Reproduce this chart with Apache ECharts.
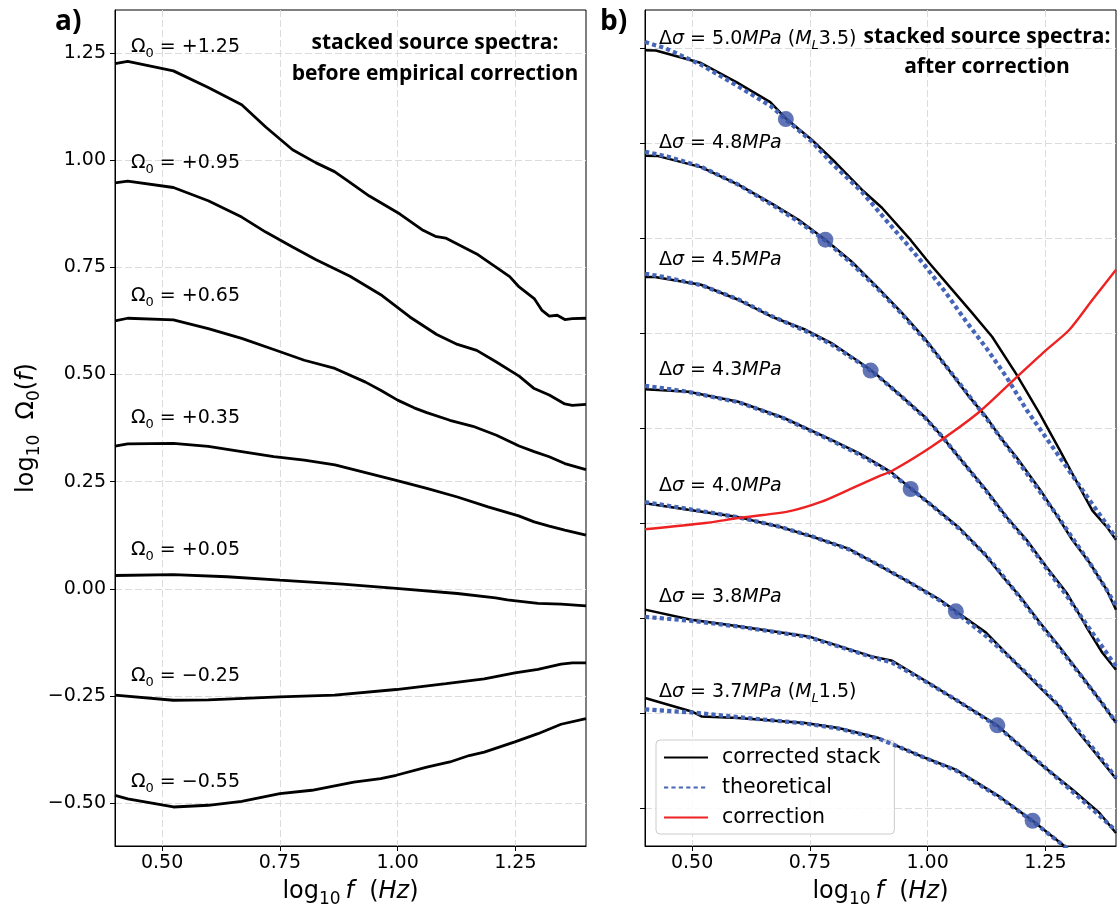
<!DOCTYPE html>
<html>
<head>
<meta charset="utf-8">
<script src="https://cdn.jsdelivr.net/npm/echarts@6/dist/echarts.min.js"></script>
<style>
  html, body { margin: 0; padding: 0; background: #ffffff; }
  #chart { width: 1120px; height: 909px; }
</style>
</head>
<body>
<div id="chart"></div>
<script>
// ---------------- tick values ----------------
const freqTicks = [0.5, 0.75, 1.0, 1.25];
const ampTicksA = [-0.5, -0.25, 0, 0.25, 0.5, 0.75, 1.0, 1.25];
const ampTicksB = [0, 0.5, 1.0, 1.5, 2.0, 2.5, 3.0, 3.5, 4.0];

// ---------------- panel a: stacked spectra before correction ----------------
// [log10 f, log10 Omega0(f)]
const stackP125 = [[0.40,1.225],[0.427,1.230],[0.524,1.208],[0.598,1.169],[0.669,1.129],[0.720,1.077],[0.777,1.024],[0.826,0.994],[0.866,0.973],[0.892,0.953],[0.940,0.916],[1.005,0.874],[1.054,0.836],[1.080,0.822],[1.102,0.818],[1.168,0.781],[1.238,0.728],[1.258,0.704],[1.290,0.677],[1.306,0.650],[1.322,0.636],[1.339,0.638],[1.355,0.628],[1.371,0.630],[1.40,0.631]];
const stackP095 = [[0.40,0.947],[0.427,0.951],[0.524,0.936],[0.598,0.905],[0.669,0.867],[0.720,0.832],[0.777,0.797],[0.826,0.768],[0.899,0.729],[0.967,0.684],[1.026,0.634],[1.083,0.593],[1.127,0.570],[1.168,0.556],[1.208,0.530],[1.258,0.496],[1.290,0.467],[1.322,0.452],[1.355,0.431],[1.371,0.428],[1.40,0.430]];
const stackP065 = [[0.40,0.625],[0.427,0.631],[0.524,0.627],[0.598,0.607],[0.669,0.584],[0.737,0.558],[0.802,0.533],[0.867,0.514],[0.932,0.482],[0.964,0.463],[1.000,0.440],[1.035,0.422],[1.062,0.411],[1.111,0.393],[1.160,0.379],[1.210,0.358],[1.258,0.333],[1.290,0.320],[1.322,0.308],[1.355,0.292],[1.40,0.278]];
const stackP035 = [[0.40,0.333],[0.427,0.338],[0.524,0.339],[0.598,0.332],[0.669,0.320],[0.737,0.308],[0.802,0.300],[0.867,0.289],[0.932,0.271],[0.997,0.253],[1.062,0.234],[1.127,0.214],[1.192,0.191],[1.257,0.170],[1.290,0.156],[1.322,0.146],[1.355,0.137],[1.40,0.125]];
const stackP005 = [[0.40,0.031],[0.524,0.033],[0.638,0.028],[0.750,0.020],[0.883,0.011],[0.997,0.001],[1.127,-0.011],[1.208,-0.021],[1.233,-0.026],[1.298,-0.034],[1.347,-0.036],[1.40,-0.040]];
const stackM025 = [[0.40,-0.248],[0.524,-0.260],[0.598,-0.259],[0.750,-0.252],[0.866,-0.248],[0.997,-0.235],[1.103,-0.221],[1.184,-0.210],[1.249,-0.196],[1.298,-0.188],[1.347,-0.176],[1.371,-0.173],[1.40,-0.173]];
const stackM055 = [[0.40,-0.482],[0.427,-0.490],[0.524,-0.509],[0.598,-0.505],[0.669,-0.496],[0.750,-0.478],[0.818,-0.470],[0.907,-0.451],[0.964,-0.443],[0.997,-0.435],[1.062,-0.416],[1.111,-0.404],[1.152,-0.389],[1.184,-0.381],[1.249,-0.357],[1.298,-0.338],[1.347,-0.316],[1.40,-0.303]];
const offsetsA = ['+1.25', '+0.95', '+0.65', '+0.35', '+0.05', '\u22120.25', '\u22120.55'];

// ---------------- panel b: corrected stacks vs theoretical spectra ----------------
const stack50 = [[0.40,3.988],[0.423,3.987],[0.519,3.921],[0.594,3.820],[0.666,3.715],[0.698,3.632],[0.754,3.517],[0.805,3.396],[0.864,3.246],[0.903,3.159],[0.960,3.001],[1.003,2.870],[1.052,2.728],[1.094,2.607],[1.137,2.480],[1.188,2.285],[1.237,2.080],[1.280,1.886],[1.322,1.691],[1.350,1.565],[1.380,1.481],[1.40,1.412]];
const theo50 = [[0.40,4.031],[0.442,4.000],[0.519,3.912],[0.598,3.798],[0.668,3.693],[0.698,3.626],[0.754,3.508],[0.796,3.395],[0.860,3.244],[0.911,3.096],[0.954,2.974],[0.996,2.849],[1.039,2.711],[1.082,2.560],[1.124,2.423],[1.167,2.270],[1.210,2.096],[1.252,1.947],[1.274,1.869],[1.308,1.748],[1.338,1.641],[1.365,1.546],[1.40,1.422]];
const stack48 = [[0.40,3.433],[0.428,3.431],[0.519,3.373],[0.598,3.281],[0.673,3.176],[0.726,3.096],[0.783,2.991],[0.839,2.875],[0.896,2.733],[0.945,2.607],[0.996,2.465],[1.045,2.307],[1.088,2.165],[1.124,2.060],[1.158,1.939],[1.188,1.849],[1.243,1.660],[1.280,1.518],[1.307,1.412],[1.344,1.291],[1.380,1.149],[1.40,1.043]];
const theo48 = [[0.40,3.454],[0.449,3.428],[0.519,3.375],[0.598,3.281],[0.673,3.170],[0.726,3.086],[0.783,2.986],[0.839,2.865],[0.896,2.728],[0.945,2.601],[0.996,2.459],[1.045,2.307],[1.088,2.170],[1.124,2.054],[1.158,1.939],[1.188,1.839],[1.243,1.649],[1.280,1.523],[1.307,1.423],[1.344,1.291],[1.380,1.149],[1.40,1.065]];
const stack45 = [[0.40,2.795],[0.421,2.795],[0.519,2.754],[0.598,2.675],[0.668,2.587],[0.741,2.517],[0.796,2.447],[0.869,2.324],[0.896,2.272],[0.945,2.166],[0.996,2.054],[1.031,1.954],[1.067,1.844],[1.124,1.675],[1.167,1.533],[1.210,1.412],[1.252,1.270],[1.295,1.133],[1.337,0.954],[1.371,0.817],[1.40,0.728]];
const theo45 = [[0.40,2.812],[0.44,2.795],[0.519,2.752],[0.598,2.677],[0.668,2.590],[0.741,2.510],[0.796,2.440],[0.869,2.320],[0.896,2.270],[0.945,2.165],[0.996,2.050],[1.031,1.955],[1.067,1.845],[1.124,1.670],[1.167,1.530],[1.210,1.405],[1.252,1.262],[1.295,1.118],[1.337,0.968],[1.371,0.848],[1.40,0.745]];
const stack43 = [[0.40,2.204],[0.492,2.191],[0.598,2.138],[0.694,2.054],[0.796,1.938],[0.854,1.868],[0.896,1.807],[0.924,1.765],[0.965,1.680],[1.010,1.591],[1.067,1.475],[1.124,1.328],[1.158,1.222],[1.195,1.117],[1.237,0.980],[1.280,0.849],[1.322,0.712],[1.365,0.570],[1.40,0.449]];
const theo43 = [[0.40,2.222],[0.45,2.205],[0.492,2.190],[0.598,2.136],[0.694,2.052],[0.796,1.934],[0.854,1.862],[0.896,1.802],[0.924,1.758],[0.965,1.680],[1.010,1.590],[1.067,1.470],[1.124,1.330],[1.158,1.228],[1.195,1.112],[1.237,0.974],[1.280,0.842],[1.322,0.708],[1.365,0.570],[1.40,0.452]];
const stack40 = [[0.40,1.604],[0.492,1.570],[0.598,1.531],[0.683,1.482],[0.754,1.429],[0.832,1.365],[0.903,1.268],[0.960,1.190],[1.024,1.100],[1.060,1.035],[1.124,0.923],[1.180,0.781],[1.237,0.638],[1.280,0.533],[1.316,0.412],[1.359,0.281],[1.40,0.154]];
const theo40 = [[0.40,1.610],[0.492,1.574],[0.598,1.530],[0.683,1.482],[0.754,1.430],[0.832,1.362],[0.903,1.270],[0.960,1.190],[1.024,1.095],[1.060,1.030],[1.124,0.905],[1.180,0.780],[1.237,0.645],[1.280,0.535],[1.316,0.420],[1.359,0.290],[1.40,0.160]];
const stack38 = [[0.40,1.044],[0.498,0.991],[0.598,0.956],[0.747,0.903],[0.881,0.798],[0.925,0.775],[1.003,0.658],[1.060,0.570],[1.148,0.435],[1.237,0.237],[1.308,0.096],[1.365,-0.026],[1.40,-0.132]];
const theo38 = [[0.40,1.006],[0.498,0.985],[0.598,0.955],[0.747,0.900],[0.881,0.795],[0.925,0.765],[1.003,0.655],[1.060,0.570],[1.148,0.430],[1.237,0.240],[1.308,0.085],[1.365,-0.040],[1.40,-0.120]];
const stack37 = [[0.40,0.579],[0.499,0.508],[0.520,0.482],[0.598,0.474],[0.740,0.447],[0.811,0.421],[0.896,0.368],[0.996,0.263],[1.060,0.202],[1.152,0.061],[1.223,-0.067],[1.287,-0.193],[1.32,-0.26]];
const theo37 = [[0.40,0.519],[0.499,0.503],[0.598,0.478],[0.740,0.445],[0.811,0.418],[0.896,0.366],[0.996,0.262],[1.060,0.198],[1.152,0.058],[1.223,-0.070],[1.287,-0.195],[1.32,-0.265]];
const cornerPoints = [[0.699,3.626],[0.783,2.991],[0.879,2.302],[0.964,1.679],[1.060,1.035],[1.148,0.435],[1.223,-0.067]];
const correction = [[0.40,1.467],[0.528,1.500],[0.598,1.526],[0.705,1.561],[0.775,1.612],[0.839,1.682],[0.896,1.745],[0.924,1.774],[1.009,1.903],[1.109,2.083],[1.188,2.265],[1.248,2.402],[1.301,2.517],[1.350,2.675],[1.40,2.833]];
const stressDrops = ['5.0', '4.8', '4.5', '4.3', '4.0', '3.8', '3.7'];
const magnitudes = { '5.0': '3.5', '3.7': '1.5' };

// ---------------- styling ----------------
const MPL = 'DejaVu Sans';
const BLUE_DOT = '#4565b8';
const gridLine = { show: true, lineStyle: { color: '#dcdcdc', type: [7, 3], width: 1 } };
const fmtNum = v => (v < 0 ? '\u2212' + Math.abs(v).toFixed(2) : v.toFixed(2));

function xAxis(gi) {
  return {
    type: 'value', gridIndex: gi, min: 0.4, max: 1.4,
    axisLine: { show: true, onZero: false, lineStyle: { color: '#000', width: 1 } },
    axisTick: { show: true, length: 5, customValues: freqTicks, lineStyle: { color: '#000', width: 1 } },
    axisLabel: { customValues: freqTicks, formatter: v => v.toFixed(2), fontFamily: MPL, fontSize: 19, color: '#000', margin: 8 },
    splitLine: gridLine
  };
}
function yAxis(gi, min, max, ticks, showLabels) {
  return {
    type: 'value', gridIndex: gi, min: min, max: max,
    axisLine: { show: true, onZero: false, lineStyle: { color: '#000', width: 1 } },
    axisTick: { show: true, length: 5, customValues: ticks, lineStyle: { color: '#000', width: 1 } },
    axisLabel: { show: showLabels, customValues: ticks, formatter: fmtNum, fontFamily: MPL, fontSize: 19, color: '#000', margin: 9 },
    splitLine: gridLine
  };
}

const series = [];
[stackP125, stackP095, stackP065, stackP035, stackP005, stackM025, stackM055].forEach((d, i) => {
  series.push({
    name: 'offset ' + offsetsA[i], type: 'line', xAxisIndex: 0, yAxisIndex: 0, data: d,
    symbol: 'none', silent: true, itemStyle: { color: '#000' },
    lineStyle: { color: '#000', width: 2.8 }, z: 3
  });
});
const stacksB = [stack50, stack48, stack45, stack43, stack40, stack38, stack37];
const theosB = [theo50, theo48, theo45, theo43, theo40, theo38, theo37];
stacksB.forEach(d => series.push({
  name: 'corrected stack', type: 'line', xAxisIndex: 1, yAxisIndex: 1, data: d,
  symbol: 'none', silent: true, itemStyle: { color: '#000' },
  lineStyle: { color: '#000', width: 2.5 }, z: 3
}));
theosB.forEach(d => series.push({
  name: 'theoretical', type: 'line', xAxisIndex: 1, yAxisIndex: 1, data: d,
  symbol: 'none', silent: true, itemStyle: { color: BLUE_DOT },
  lineStyle: { color: BLUE_DOT, width: 4.2, type: [4.2, 3.2], cap: 'butt' }, z: 4
}));
series.push({
  name: 'correction', type: 'line', xAxisIndex: 1, yAxisIndex: 1, data: correction,
  symbol: 'none', silent: true, smooth: 0.25, itemStyle: { color: '#ee2222' },
  lineStyle: { color: '#ee2222', width: 2.4 }, z: 5
});
series.push({
  name: 'corner frequency', type: 'scatter', xAxisIndex: 1, yAxisIndex: 1, data: cornerPoints,
  symbol: 'circle', symbolSize: 16, silent: true, itemStyle: { color: '#3953a4' }, z: 6
});

// ---------------- text ----------------
const baseRich = {
  t: { fontFamily: MPL, fontSize: 19, color: '#000', lineHeight: 26, verticalAlign: 'middle' },
  i: { fontFamily: MPL, fontSize: 19, fontStyle: 'italic', color: '#000', lineHeight: 26, verticalAlign: 'middle' },
  s: { fontFamily: MPL, fontSize: 13, color: '#000', lineHeight: 13, verticalAlign: 'bottom' },
  si: { fontFamily: MPL, fontSize: 13, fontStyle: 'italic', color: '#000', lineHeight: 13, verticalAlign: 'bottom' }
};
const bigRich = {
  t: { fontFamily: MPL, fontSize: 24, color: '#000', lineHeight: 32, verticalAlign: 'middle' },
  i: { fontFamily: MPL, fontSize: 24, fontStyle: 'italic', color: '#000', lineHeight: 32, verticalAlign: 'middle' },
  s: { fontFamily: MPL, fontSize: 17, color: '#000', lineHeight: 16, verticalAlign: 'bottom' }
};
function txt(x, y, text, rich, align, extra) {
  return Object.assign({
    type: 'text', x: x, y: y, silent: true, z: 20,
    style: { text: text, rich: rich, textAlign: align, textVerticalAlign: 'middle' }
  }, extra || {});
}
function boldTxt(x, y, text, size, align) {
  return {
    type: 'text', x: x, y: y, silent: true, z: 20,
    style: { text: text, fontFamily: 'Open Sans', fontWeight: 'bold', fontSize: size, fill: '#000', textAlign: align, textVerticalAlign: 'middle' }
  };
}

const labelYA = [46.7, 163.3, 296, 418.3, 550, 676, 781.7];
const labelYB = [39.3, 143.3, 260, 370, 485.7, 596.7, 691.7];
const graphics = [];
offsetsA.forEach((o, i) => graphics.push(txt(131, labelYA[i], '{t|\u03A9}{s|0}{t| = ' + o + '}', baseRich, 'left')));
stressDrops.forEach((s, i) => {
  let t = '{t|\u0394}{i|\u03C3}{t| = ' + s + '}{i|MPa}';
  if (magnitudes[s]) t += '{t| (}{i|M}{si|L}{t|' + magnitudes[s] + ')}';
  graphics.push(txt(659, labelYB[i], t, baseRich, 'left'));
});
graphics.push(boldTxt(435, 43, 'stacked source spectra:', 21, 'center'));
graphics.push(boldTxt(435, 74, 'before empirical correction', 21, 'center'));
graphics.push(boldTxt(987, 37, 'stacked source spectra:', 21, 'center'));
graphics.push(boldTxt(987, 67, 'after correction', 21, 'center'));
graphics.push(boldTxt(55, 22, 'a)', 28, 'left'));
graphics.push(boldTxt(600, 22, 'b)', 28, 'left'));
const xTitle = '{t|log}{s|10}{i|\u2009f}{t|  (}{i|Hz}{t|)}';
graphics.push(txt(350.5, 892, xTitle, bigRich, 'center'));
graphics.push(txt(880.5, 892, xTitle, bigRich, 'center'));
const yTitle = '{t|log}{s|10}{t|  \u03A9}{s|0}{t|(}{i|f}{t|)}';
graphics.push(txt(27, 428, yTitle, bigRich, 'center', { rotation: Math.PI / 2 }));

const chart = echarts.init(document.getElementById('chart'), null, { renderer: 'canvas' });
chart.setOption({
  animation: false,
  backgroundColor: '#ffffff',
  grid: [
    { left: 115, top: 10, width: 471, height: 836, show: true, borderColor: '#000', borderWidth: 1, backgroundColor: 'transparent' },
    { left: 645, top: 10, width: 471, height: 836, show: true, borderColor: '#000', borderWidth: 1, backgroundColor: 'transparent' }
  ],
  xAxis: [xAxis(0), xAxis(1)],
  yAxis: [yAxis(0, -0.6, 1.35, ampTicksA, true), yAxis(1, -0.2, 4.2, ampTicksB, false)],
  legend: {
    data: ['corrected stack', 'theoretical', 'correction'],
    orient: 'vertical', left: 656, top: 740,
    itemWidth: 44, itemHeight: 14, itemGap: 9,
    padding: [7, 14, 6, 7],
    itemStyle: { opacity: 0, borderWidth: 0 },
    backgroundColor: 'rgba(255,255,255,0.85)', borderColor: '#cccccc', borderWidth: 1, borderRadius: 4,
    textStyle: { fontFamily: MPL, fontSize: 20.5, color: '#000', padding: [0, 0, 0, 9] },
    selectedMode: false
  },
  series: series,
  graphic: graphics
});
</script>
</body>
</html>
